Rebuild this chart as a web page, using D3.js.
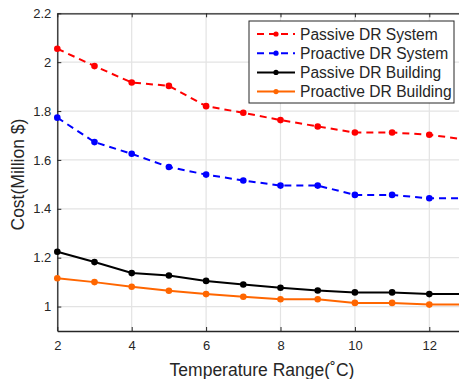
<!DOCTYPE html>
<html>
<head>
<meta charset="utf-8">
<script src="https://cdn.jsdelivr.net/npm/d3@7"></script>
<style>
  body { margin: 0; background: #fff; }
  text { font-family: "Liberation Sans", Arial, sans-serif; fill: #262626; }
</style>
</head>
<body>
<svg id="chart"></svg>
<script>
// temperature range (x) and the four cost series
var temps = [2, 3, 4, 5, 6, 7, 8, 9, 10, 11, 12, 13];
var passiveSystem = [2.055, 1.984, 1.917, 1.903, 1.82, 1.793, 1.763, 1.737, 1.712, 1.712, 1.703, 1.683];
var proactiveSystem = [1.773, 1.673, 1.625, 1.571, 1.54, 1.516, 1.495, 1.495, 1.457, 1.457, 1.443, 1.443];
var passiveBuilding = [1.224, 1.182, 1.137, 1.127, 1.105, 1.09, 1.077, 1.066, 1.058, 1.058, 1.051, 1.051];
var proactiveBuilding = [1.116, 1.1, 1.081, 1.065, 1.051, 1.04, 1.03, 1.03, 1.015, 1.015, 1.008, 1.008];
var seriesNames = ["Passive DR System", "Proactive DR System", "Passive DR Building", "Proactive DR Building"];
var xTicks = [2, 4, 6, 8, 10, 12];
var yTicks = [1, 1.2, 1.4, 1.6, 1.8, 2, 2.2];

function init(){
    var width = 459;
    var height = 379;
    var svg = d3.select("#chart").attr("width", width).attr("height", height);

    var x = d3.scaleLinear().domain([2, 13]).range([57.3, 466.5]);
    var y = d3.scaleLinear().domain([0.9, 2.2]).range([331, 13.3]);
    var left = x(2), right = x(13), top = y(2.2), bottom = y(0.9);

    var series = [
        {name: seriesNames[0], values: passiveSystem, color: "#ff0000", dash: "7,5"},
        {name: seriesNames[1], values: proactiveSystem, color: "#0000ff", dash: "7,5"},
        {name: seriesNames[2], values: passiveBuilding, color: "#000000", dash: null},
        {name: seriesNames[3], values: proactiveBuilding, color: "#ff6600", dash: null}
    ];

    // grid
    var grid = svg.append("g");
    grid.selectAll(".gx").data(xTicks).enter().append("line")
        .attr("x1", function(d){return x(d)}).attr("x2", function(d){return x(d)})
        .attr("y1", top).attr("y2", bottom)
        .attr("stroke", "#e3e3e3").attr("stroke-width", 1.2);
    grid.selectAll(".gy").data(yTicks).enter().append("line")
        .attr("x1", left).attr("x2", right)
        .attr("y1", function(d){return y(d)}).attr("y2", function(d){return y(d)})
        .attr("stroke", "#e3e3e3").attr("stroke-width", 1.2);

    // axes (ticks pointing inward)
    var xAxis = svg.append("g").attr("transform", "translate(0," + bottom + ")")
        .call(d3.axisBottom(x).tickValues(xTicks).tickSize(-4).tickPadding(10).tickSizeOuter(0));
    var xTop = svg.append("g").attr("transform", "translate(0," + top + ")")
        .call(d3.axisTop(x).tickValues(xTicks).tickSize(-4).tickFormat("").tickSizeOuter(0));
    var yAxis = svg.append("g").attr("transform", "translate(" + left + ",0)")
        .call(d3.axisLeft(y).tickValues(yTicks).tickSize(-4).tickPadding(6).tickSizeOuter(0)
            .tickFormat(function(d){return d3.format("")(d)}));
    [xAxis, xTop, yAxis].forEach(function(a){
        a.select(".domain").attr("stroke", "#262626").attr("stroke-width", 1.3);
        a.selectAll(".tick line").attr("stroke", "#262626");
        a.selectAll(".tick text").style("font-size", "13px").attr("fill", "#262626");
    });

    // lines
    var line = d3.line()
        .x(function(d, i){return x(temps[i])})
        .y(function(d){return y(d)});
    var plot = svg.append("g");
    series.forEach(function(s){
        plot.append("path")
            .attr("fill", "none")
            .attr("stroke", s.color)
            .attr("stroke-width", 2)
            .attr("stroke-dasharray", s.dash)
            .attr("d", line(s.values));
        plot.selectAll(null).data(s.values).enter().append("circle")
            .attr("cx", function(d, i){return x(temps[i])})
            .attr("cy", function(d){return y(d)})
            .attr("r", 3.3)
            .attr("fill", s.color);
    });

    // legend
    var leg = svg.append("g");
    leg.append("rect")
        .attr("x", 249).attr("y", 21).attr("width", 205).attr("height", 82)
        .attr("fill", "#fff").attr("stroke", "#262626").attr("stroke-width", 1);
    series.forEach(function(s, i){
        var ly = 34 + i * 19.2;
        leg.append("line")
            .attr("x1", 257).attr("x2", 295).attr("y1", ly).attr("y2", ly)
            .attr("stroke", s.color).attr("stroke-width", 2)
            .attr("stroke-dasharray", s.dash);
        leg.append("circle").attr("cx", 276).attr("cy", ly).attr("r", 2.6).attr("fill", s.color);
        leg.append("text")
            .attr("x", 300).attr("y", ly)
            .attr("dominant-baseline", "central")
            .style("font-size", "15.6px")
            .attr("fill", "#000")
            .text(s.name);
    });

    // axis titles
    svg.append("text")
        .attr("x", 262).attr("y", 370)
        .attr("text-anchor", "middle").attr("dominant-baseline", "central")
        .style("font-size", "17.5px")
        .text("Temperature Range(˚C)");
    svg.append("text")
        .attr("transform", "translate(18," + y(1.54) + ") rotate(-90)")
        .attr("text-anchor", "middle").attr("dominant-baseline", "central")
        .style("font-size", "17.5px")
        .text("Cost(Million $)");
}
init();
</script>
</body>
</html>
